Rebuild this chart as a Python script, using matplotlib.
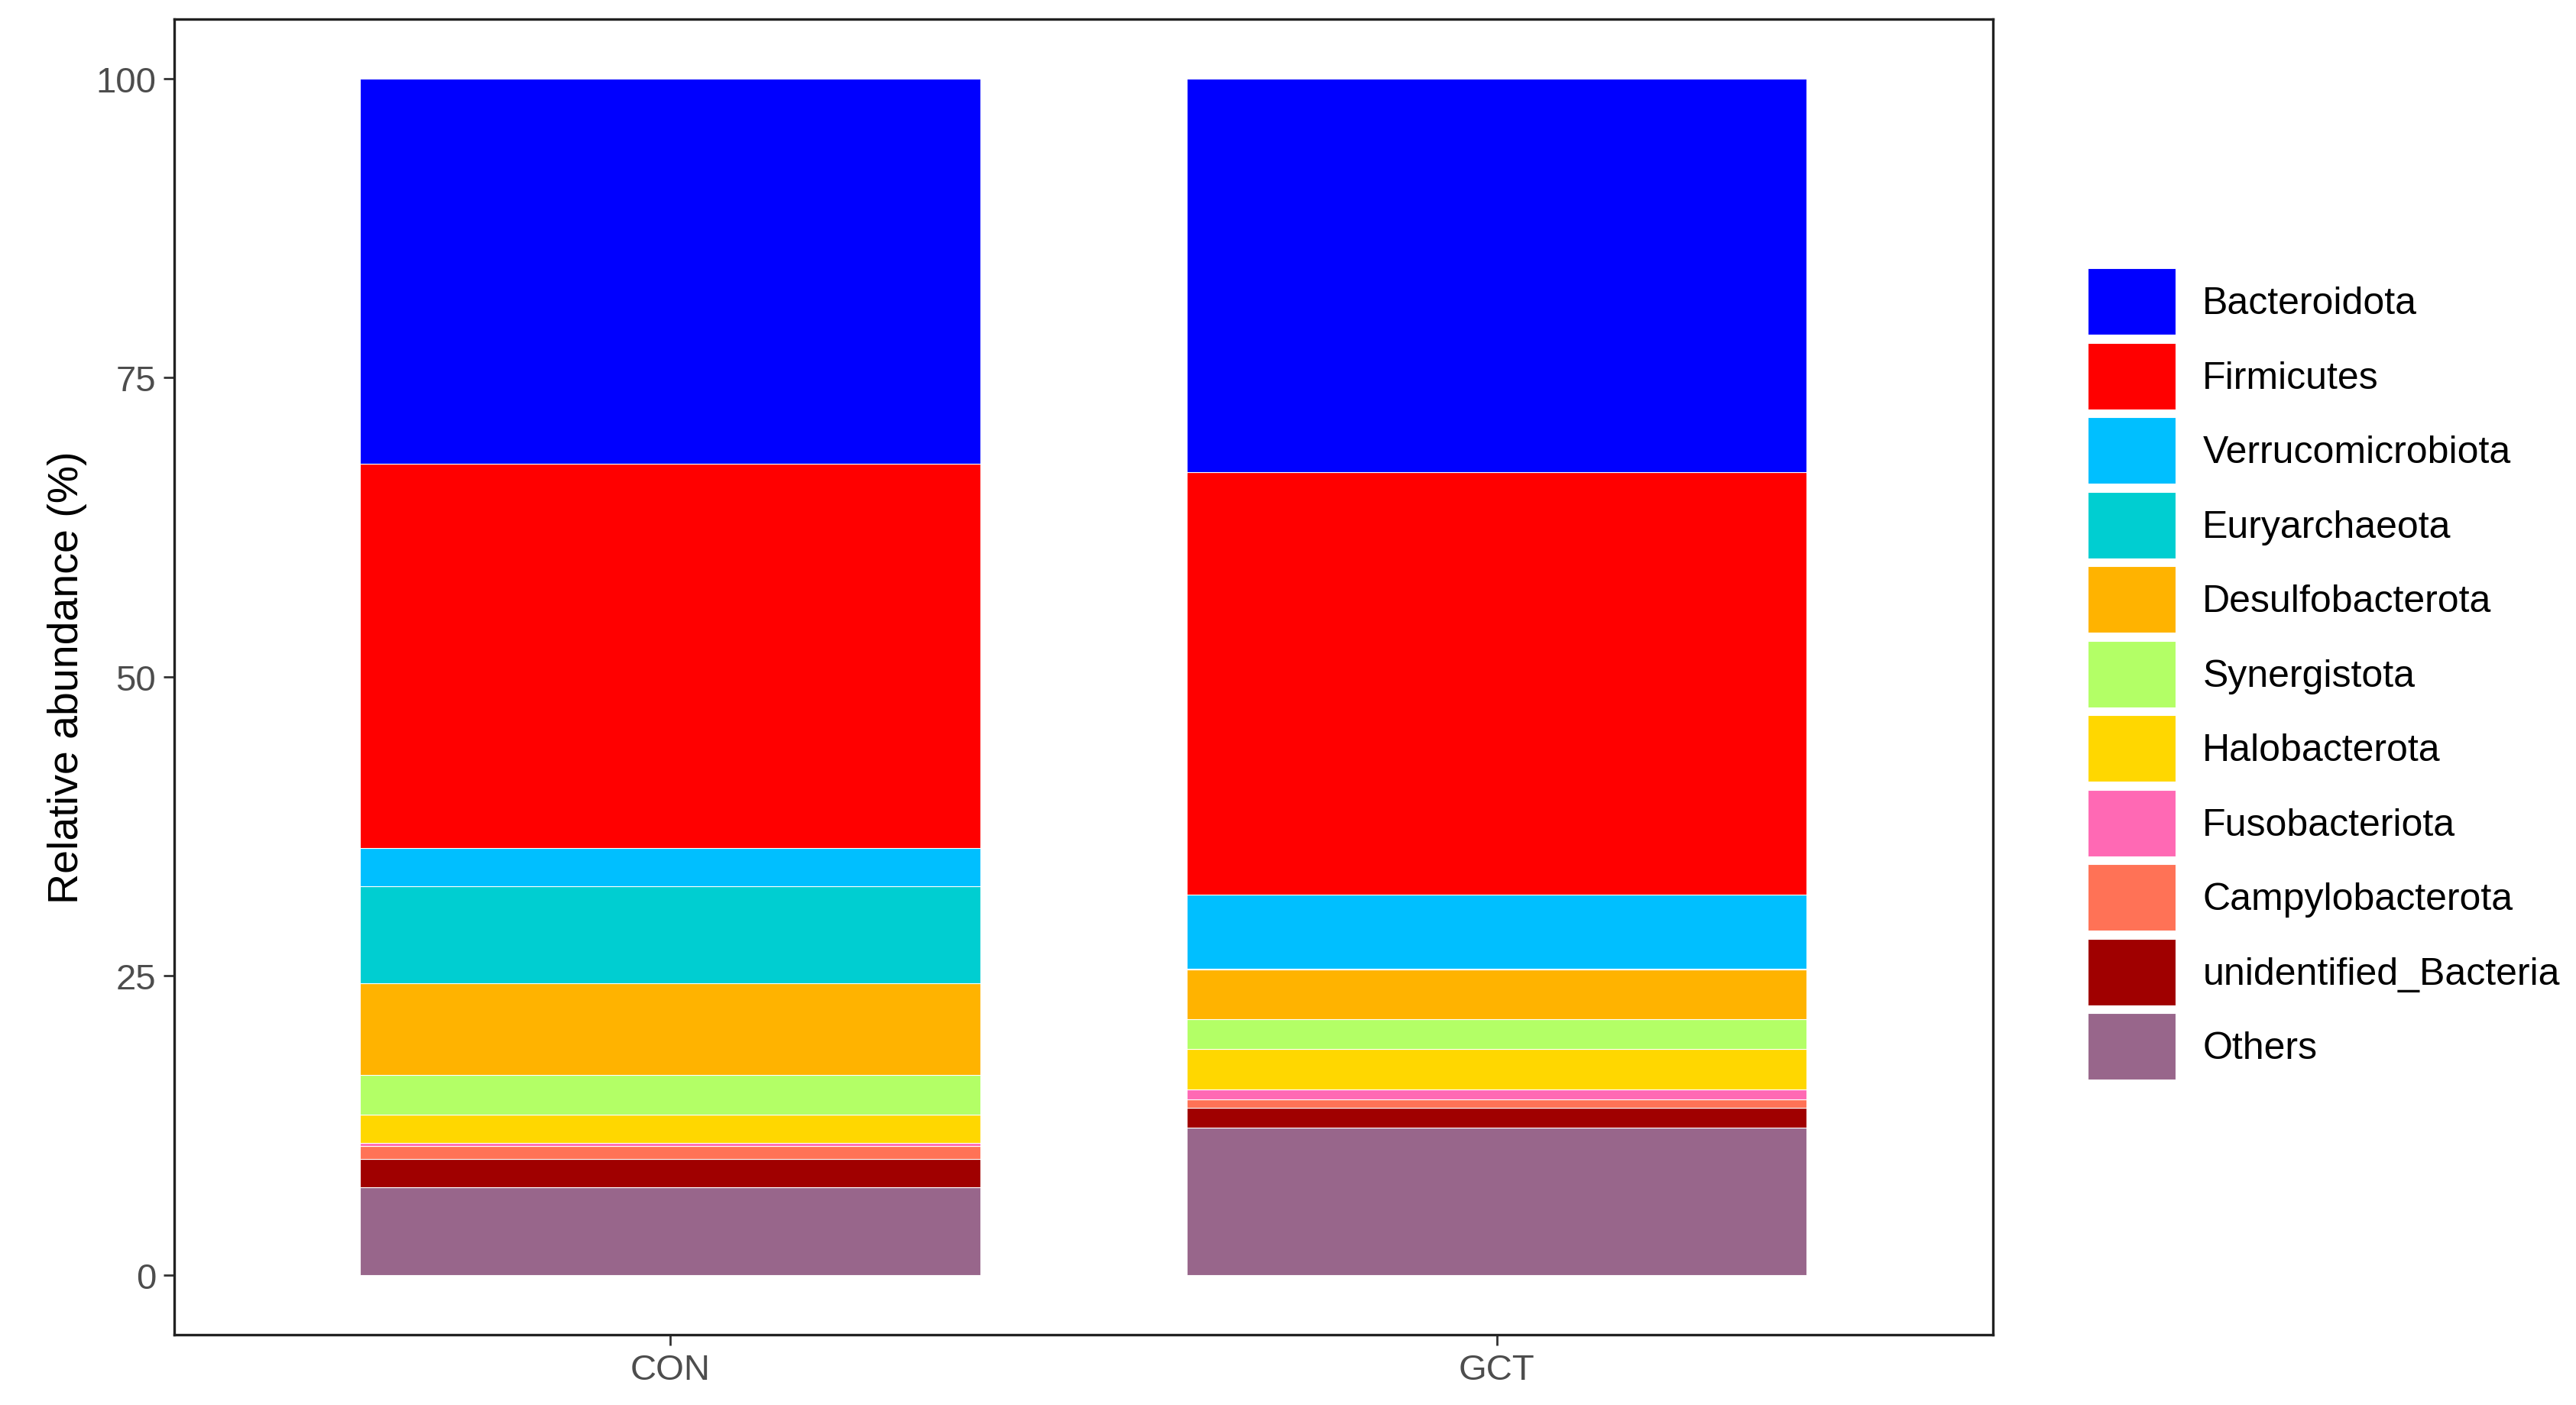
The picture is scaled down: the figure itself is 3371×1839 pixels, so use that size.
import matplotlib
matplotlib.use("Agg")
import matplotlib.pyplot as plt
import numpy as np

plt.rcParams['font.family'] = ['Liberation Sans', 'DejaVu Sans']

groups = ["CON", "GCT"]
taxa = ["Bacteroidota", "Firmicutes", "Verrucomicrobiota", "Euryarchaeota", "Desulfobacterota",
        "Synergistota", "Halobacterota", "Fusobacteriota", "Campylobacterota",
        "unidentified_Bacteria", "Others"]
colors = ["#0000FF", "#FF0000", "#00BFFF", "#00CED1", "#FFB300", "#B3FF66",
          "#FFD700", "#FF69B4", "#FF7256", "#A00000", "#98668B"]
# values in % per group (CON, GCT)
Bacteroidota = [32.2, 32.9]
Firmicutes = [32.1, 35.3]
Verrucomicrobiota = [3.2, 6.2]
Euryarchaeota = [8.1, 0.1]
Desulfobacterota = [7.7, 4.1]
Synergistota = [3.3, 2.5]
Halobacterota = [2.4, 3.4]
Fusobacteriota = [0.2, 0.8]
Campylobacterota = [1.1, 0.7]
unidentified_Bacteria = [2.4, 1.7]
Others = [7.3, 12.3]
values = [Bacteroidota, Firmicutes, Verrucomicrobiota, Euryarchaeota, Desulfobacterota,
          Synergistota, Halobacterota, Fusobacteriota, Campylobacterota,
          unidentified_Bacteria, Others]

fig = plt.figure(figsize=(16.855, 9.2), dpi=200)
ax = fig.add_axes([0.0676, 0.05, 0.706, 0.936])
x = np.arange(1, len(groups) + 1)
bottom = np.zeros(len(groups))
handles = []
for name, col, v in reversed(list(zip(taxa, colors, values))):
    b = ax.bar(x, v, bottom=bottom, width=0.75, color=col, edgecolor="white", linewidth=0.4, label=name)
    bottom += np.array(v)
    handles.append(b)
handles = handles[::-1]
ax.set_xlim(0.4, 2.6)
ax.set_ylim(-5, 105)
ax.set_xticks(x)
ax.set_xticklabels(groups)
ax.set_yticks([0, 25, 50, 75, 100])
ax.tick_params(axis="both", colors="#333333", labelsize=17, length=5, width=1, labelcolor="#4d4d4d")
ax.set_ylabel("Relative abundance (%)", fontsize=20, color="black")
for s in ax.spines.values():
    s.set_linewidth(1.2)
    s.set_color("#222222")

fig.legend(handles, taxa, loc="upper left", bbox_to_anchor=(1250/1568, 1 - 143/856),
           frameon=False, fontsize=18, handleheight=2.3, handlelength=2.3,
           labelspacing=0.21, handletextpad=0.7)
fig.savefig("out.png", dpi=200)
